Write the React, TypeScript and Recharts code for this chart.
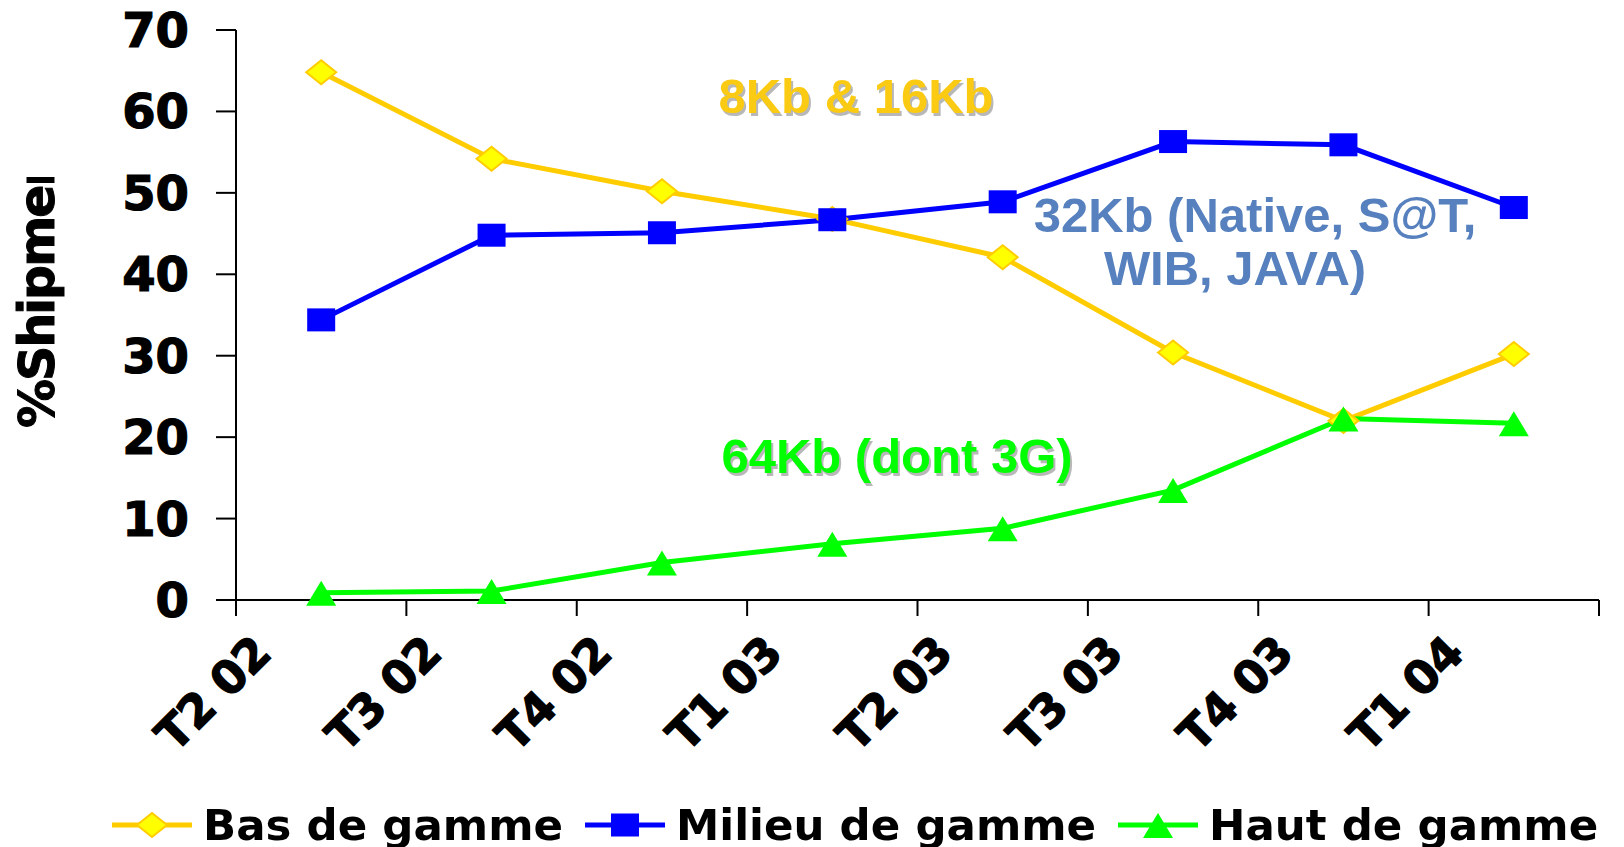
import React from 'react';
import { LineChart, Line, XAxis, YAxis, Legend } from 'recharts';

const categories = ['T2 02', 'T3 02', 'T4 02', 'T1 03', 'T2 03', 'T3 03', 'T4 03', 'T1 04'];
const basDeGamme = [64.8, 54.2, 50.2, 46.8, 42.1, 30.4, 22.0, 30.2];
const milieuDeGamme = [34.4, 44.8, 45.1, 46.7, 48.9, 56.3, 55.9, 48.2];
const hautDeGamme = [0.9, 1.1, 4.6, 6.9, 8.8, 13.5, 22.3, 21.7];
const yTicks = [0, 10, 20, 30, 40, 50, 60, 70];
const seriesOrder = ['bas', 'milieu', 'haut'];

// points sit in the middle of each category band, labels sit on the band edges
const data = categories.map((c, i) => ({
  pos: i + 0.5,
  bas: basDeGamme[i],
  milieu: milieuDeGamme[i],
  haut: hautDeGamme[i],
}));
const xTicks = categories.map((_, i) => i).concat(categories.length);

const axisFont = 'DejaVu Sans, Verdana, sans-serif';
const noteFont = 'Liberation Sans, Arial, sans-serif';

const Diamond = (props: any) => {
  const { cx, cy, index } = props;
  return (
    <polygon
      key={'d' + index}
      points={`${cx - 15},${cy} ${cx},${cy - 12} ${cx + 15},${cy} ${cx},${cy + 12}`}
      fill="#FFFF00"
      stroke="#FFCC00"
      strokeWidth={2}
    />
  );
};

const Square = (props: any) => {
  const { cx, cy, index } = props;
  return <rect key={'s' + index} x={cx - 14} y={cy - 11.5} width={28} height={23} fill="#0000FF" />;
};

const Triangle = (props: any) => {
  const { cx, cy, index } = props;
  return (
    <polygon
      key={'t' + index}
      points={`${cx - 15},${cy + 13} ${cx},${cy - 12} ${cx + 15},${cy + 13}`}
      fill="#00FF00"
    />
  );
};

const XTick = (props: any) => {
  const { x, y, payload } = props;
  const label = categories[payload.value] ?? '';
  return (
    <g transform={`translate(${x + 37},${y + 40}) rotate(-45)`}>
      <text
        x={0}
        y={0}
        textAnchor="end"
        fill="#000"
        stroke="#000"
        strokeWidth={1.2}
        fontSize={46}
        fontWeight="bold"
        fontFamily={axisFont}
        letterSpacing={-1}
      >
        {label}
      </text>
    </g>
  );
};

const YTick = (props: any) => {
  const { x, y, payload } = props;
  return (
    <text
      x={x}
      y={y}
      dy={17}
      textAnchor="end"
      fill="#000"
      stroke="#000"
      strokeWidth={1.2}
      fontSize={48}
      fontWeight="bold"
      fontFamily={axisFont}
    >
      {payload.value}
    </text>
  );
};

const YLabel = () => (
  <g clipPath="url(#ylab-clip)">
    <defs>
      <clipPath id="ylab-clip">
        <rect x={0} y={177} width={120} height={500} />
      </clipPath>
    </defs>
    <text
      x={54}
      y={428}
      transform="rotate(-90, 54, 428)"
      fill="#000"
      stroke="#000"
      strokeWidth={1}
      fontSize={49}
      fontWeight="bold"
      fontFamily={axisFont}
      letterSpacing={-2}
    >
      %Shipments
    </text>
  </g>
);

const markers: Record<string, (p: any) => React.ReactElement> = {
  bas: Diamond,
  milieu: Square,
  haut: Triangle,
};

const LegendBox = (props: any) => {
  const payload = [...(props.payload || [])].sort(
    (a: any, b: any) => seriesOrder.indexOf(a.dataKey) - seriesOrder.indexOf(b.dataKey)
  );
  return (
    <div style={{ display: 'flex', alignItems: 'center', marginLeft: 112, height: 50, whiteSpace: 'nowrap' }}>
      {payload.map((entry: any) => {
        const Marker = markers[entry.dataKey];
        return (
          <div
            key={entry.dataKey}
            style={{ display: 'flex', alignItems: 'center', marginRight: 22, flexShrink: 0 }}
          >
            <svg width={80} height={30} style={{ marginRight: 11, flexShrink: 0 }}>
              <line x1={0} y1={15} x2={80} y2={15} stroke={entry.color} strokeWidth={5} />
              <Marker cx={40} cy={15} index={0} />
            </svg>
            <span
              style={{
                fontFamily: axisFont,
                fontWeight: 'bold',
                fontSize: 43.5,
                color: '#000',
                lineHeight: '50px',
                whiteSpace: 'nowrap',
              }}
            >
              {entry.value}
            </span>
          </div>
        );
      })}
    </div>
  );
};

const Note = ({ x, y, text, color, shadow }: any) => (
  <g>
    {shadow && (
      <text x={x + 2} y={y + 3} textAnchor="middle" fill="#B8B8B8" fontSize={49} fontWeight="bold" fontFamily={noteFont}>
        {text}
      </text>
    )}
    <text x={x} y={y} textAnchor="middle" fill={color} fontSize={49} fontWeight="bold" fontFamily={noteFont}>
      {text}
    </text>
  </g>
);

export default function App() {
  return (
    <div style={{ position: 'fixed', left: 0, top: 0, width: 1624, height: 847, background: '#fff' }}>
      <LineChart width={1624} height={847} data={data} margin={{ top: 30, right: 25, left: 0, bottom: 0 }}>
        <XAxis
          type="number"
          dataKey="pos"
          domain={[0, 8]}
          ticks={xTicks}
          interval={0}
          height={247}
          tickSize={16}
          tickMargin={0}
          axisLine={{ stroke: '#000', strokeWidth: 2 }}
          tickLine={{ stroke: '#000', strokeWidth: 2 }}
          tick={<XTick />}
        />
        <YAxis
          domain={[0, 70]}
          ticks={yTicks}
          interval={0}
          width={236}
          tickSize={20}
          tickMargin={27}
          axisLine={{ stroke: '#000', strokeWidth: 2 }}
          tickLine={{ stroke: '#000', strokeWidth: 2 }}
          tick={<YTick />}
          label={{ content: <YLabel /> }}
        />
        <Legend
          layout="horizontal"
          verticalAlign="middle"
          align="center"
          wrapperStyle={{ top: 800, left: 0, width: 1624 }}
          content={<LegendBox />}
        />
        <Line
          name="Bas de gamme"
          dataKey="bas"
          stroke="#FFCC00"
          strokeWidth={5}
          dot={Diamond}
          activeDot={false}
          isAnimationActive={false}
        />
        <Line
          name="Milieu de gamme"
          dataKey="milieu"
          stroke="#0000FF"
          strokeWidth={5}
          dot={Square}
          activeDot={false}
          isAnimationActive={false}
        />
        <Line
          name="Haut de gamme"
          dataKey="haut"
          stroke="#00FF00"
          strokeWidth={5}
          dot={Triangle}
          activeDot={false}
          isAnimationActive={false}
        />
      </LineChart>
      <svg width={1624} height={847} style={{ position: 'absolute', left: 0, top: 0, pointerEvents: 'none' }}>
        <Note x={856} y={113} text="8Kb & 16Kb" color="#FBCB14" shadow />
        <Note x={1255} y={232} text="32Kb (Native, S@T," color="#5680BE" />
        <Note x={1235} y={285} text="WIB, JAVA)" color="#5680BE" />
        <Note x={897} y={473} text="64Kb (dont 3G)" color="#00FF00" shadow />
      </svg>
    </div>
  );
}
